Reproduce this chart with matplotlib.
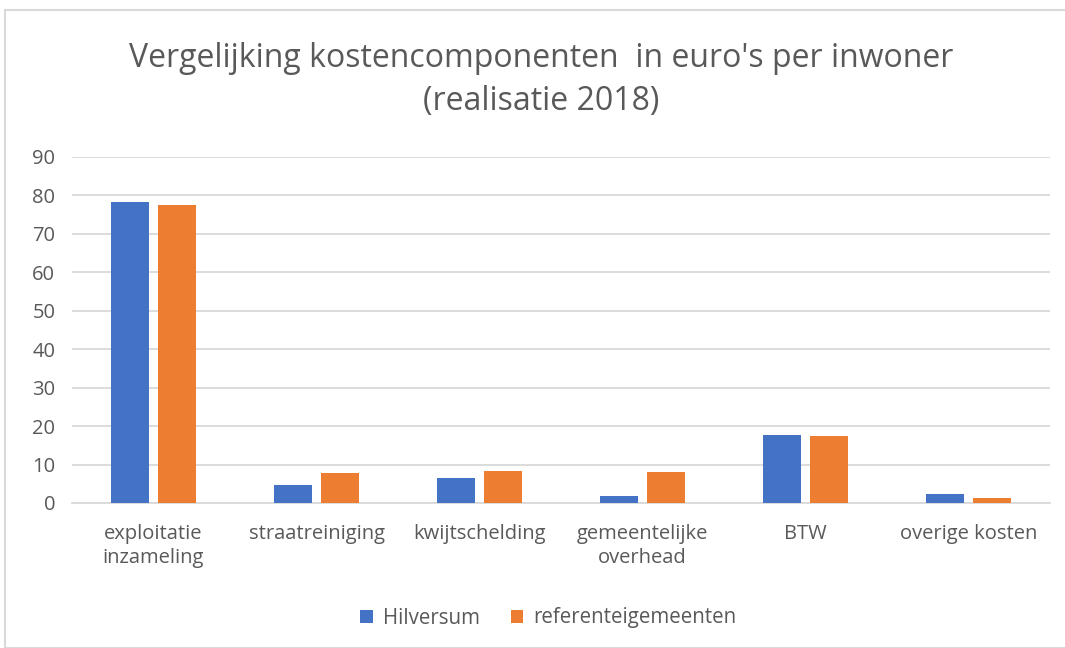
import matplotlib
matplotlib.use("Agg")
import matplotlib.pyplot as plt
import numpy as np
from matplotlib.patches import Rectangle

categories = ["exploitatie\ninzameling", "straatreiniging", "kwijtschelding",
              "gemeentelijke\noverhead", "BTW", "overige kosten"]
hilversum = [78.3, 4.8, 6.5, 1.8, 17.6, 2.4]
referentie = [77.6, 7.8, 8.4, 8.1, 17.3, 1.4]
series_names = ["Hilversum", "referenteigemeenten"]
yticks = [0, 10, 20, 30, 40, 50, 60, 70, 80, 90]
title = "Vergelijking kostencomponenten  in euro's per inwoner\n(realisatie 2018)"

plt.rcParams['font.family'] = ['Open Sans', 'DejaVu Sans']

fig = plt.figure(figsize=(10.65, 6.48), dpi=100)
ax = fig.add_axes([72/1065, 1-503/648, (1050-72)/1065, (503-157)/648])

blue = "#4472C4"
orange = "#ED7D31"
grey = "#595959"

x = np.arange(len(categories))
w = 0.233
off = 0.147
ax.bar(x - off, hilversum, w, color=blue, label=series_names[0], zorder=3)
ax.bar(x + off, referentie, w, color=orange, label=series_names[1], zorder=3)

ax.set_xlim(-0.5, len(categories) - 0.5)
ax.set_ylim(0, 90)
ax.set_yticks(yticks)
ax.yaxis.grid(True, color="#d9d9d9", linewidth=1.3, zorder=0)
ax.set_axisbelow(True)
for s in ["top", "right", "left"]:
    ax.spines[s].set_visible(False)
ax.spines["bottom"].set_color("#d9d9d9")
ax.spines["bottom"].set_linewidth(1.3)
ax.tick_params(axis="both", length=0, colors=grey, labelsize=14.5)
ax.tick_params(axis="y", pad=12)
ax.tick_params(axis="x", pad=15)
ax.set_xticks(x)
ax.set_xticklabels(categories, linespacing=1.3)

fig.text(0.508, 1 - 80/648, title, ha="center", va="center", fontsize=23,
         color=grey, linespacing=1.4)

leg = fig.legend(loc="center", bbox_to_anchor=(0.515, 1 - 618/648), ncol=2,
                 frameon=False, fontsize=14.8, handlelength=0.6, handleheight=0.6,
                 columnspacing=1.5, handletextpad=0.5)
for t in leg.get_texts():
    t.set_color(grey)

fig.patches.append(Rectangle((5/1065, 0), 1.2, 1 - 10/648, transform=fig.transFigure,
                             fill=False, edgecolor="#d9d9d9", linewidth=1.5))

fig.savefig("out.png", dpi=100, facecolor="white")
